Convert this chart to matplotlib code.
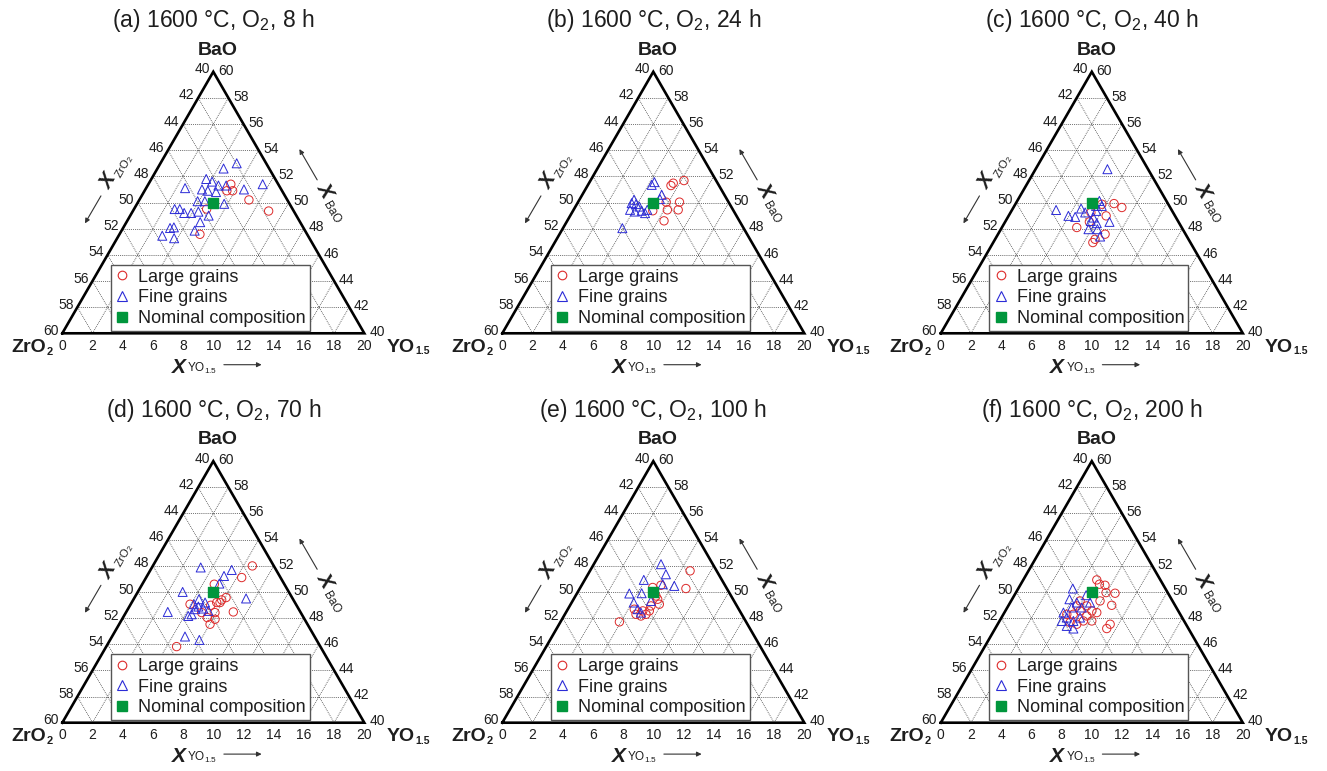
import numpy as np
import matplotlib.pyplot as plt
from matplotlib.lines import Line2D

plt.rcParams['font.family'] = ['Liberation Sans', 'DejaVu Sans']
plt.rcParams['mathtext.fontset'] = 'custom'
plt.rcParams['mathtext.rm'] = 'Liberation Sans'
plt.rcParams['mathtext.it'] = 'Liberation Sans:italic'
plt.rcParams['mathtext.bf'] = 'Liberation Sans:bold'

# compositions: (X_YO1.5, X_BaO) in mol%, ZrO2 is the rest
a_fine_y = [5.05, 4.38, 7.57, 6.53, 3.63, 4.12, 4.69, 5.2, 2.58, 3.75, 4.19, 4.78, 3.91, 4.39,
            5.77, 2.69, 3.03, 3.47, 3.93, 4.36, 5.19, 4.88, 3.11, 3.34, 4.84, 2.89, 3.77]
a_fine_bao = [53.0, 52.6, 51.4, 51.0, 51.8, 51.6, 51.3, 51.3, 51.1, 51.0, 50.9, 50.8, 50.1, 50.1,
              49.9, 49.5, 49.5, 49.2, 49.2, 49.3, 49.0, 48.5, 48.05, 48.1, 47.85, 47.46, 47.27]
a_large_y = [5.46, 5.45, 5.83, 7.26, 8.99, 4.81, 5.33]
a_large_bao = [51.4, 50.9, 50.9, 50.2, 49.35, 49.5, 47.57]

b_fine_y = [4.29, 4.22, 5.26, 5.31, 3.62, 3.59, 3.92, 3.74, 4.13, 4.55, 4.88, 4.86, 4.23, 3.93]
b_fine_bao = [51.56, 51.35, 50.59, 50.26, 50.21, 49.95, 49.88, 49.44, 49.31, 49.37, 49.44, 49.19,
              49.69, 48.04]
b_large_y = [5.58, 6.19, 5.52, 5.84, 6.72, 6.21, 6.93, 6.41, 5.28]
b_large_bao = [51.48, 51.68, 51.30, 50.03, 50.03, 49.44, 49.44, 48.60, 49.37]

c_fine_y = [4.76, 2.92, 3.96, 4.45, 4.52, 4.94, 5.44, 5.61, 5.68, 5.64, 6.12, 6.91, 5.80, 6.39,
            6.85, 5.41, 5.79]
c_fine_bao = [52.55, 49.43, 48.98, 48.90, 49.54, 49.24, 50.12, 49.36, 48.85, 48.59, 48.42, 48.52,
              47.96, 47.96, 47.40, 49.74, 49.74]
c_large_y = [5.73, 6.51, 7.18, 6.46, 5.58, 4.96, 7.09, 6.60, 6.62, 5.32]
c_large_bao = [49.87, 49.92, 49.62, 48.98, 48.52, 48.09, 47.58, 46.94, 47.19, 49.24]

d_fine_y = [3.23, 5.38, 5.10, 5.08, 2.97, 7.42, 2.75, 4.33, 4.86, 4.57, 4.45, 4.26, 4.42, 4.97,
            4.83, 5.91, 5.40, 4.19]
d_fine_bao = [51.87, 51.68, 51.22, 50.64, 50.0, 49.50, 48.47, 49.44, 49.19, 48.88, 48.68, 48.16,
              48.29, 48.73, 46.59, 46.33, 48.55, 49.06]
d_large_y = [6.59, 6.33, 4.77, 6.06, 5.86, 5.63, 5.34, 7.09, 3.93, 5.90, 5.58, 6.16, 6.02, 4.66,
             5.85, 5.02]
d_large_bao = [51.99, 51.10, 50.59, 49.57, 49.39, 49.19, 48.98, 48.47, 49.06, 48.42, 48.04, 47.91,
               47.53, 45.82, 49.19, 48.42]

e_fine_y = [4.45, 5.16, 6.16, 3.91, 3.47, 4.28, 4.11, 4.63, 5.33, 5.19, 4.97]
e_fine_bao = [52.12, 51.35, 50.46, 50.92, 49.88, 49.90, 49.19, 48.68, 50.59, 49.31, 48.42]
e_large_y = [6.63, 7.03, 4.79, 5.25, 5.57, 5.87, 5.38, 5.46, 5.03, 4.40, 5.10, 5.37, 3.90, 4.71,
             5.33]
e_large_bao = [51.61, 50.26, 50.34, 50.51, 49.44, 49.06, 48.93, 48.55, 48.55, 48.68, 48.16, 48.29,
               47.71, 48.29, 49.69]

f_fine_y = [3.61, 3.80, 4.75, 3.91, 4.12, 4.64, 5.18, 5.29, 4.41, 4.27, 4.93, 4.32, 4.89, 5.20]
f_fine_bao = [50.26, 49.44, 49.75, 48.42, 47.78, 47.40, 47.20, 49.19, 49.19, 48.81, 48.81, 48.04,
              47.78, 48.04]
f_large_y = [4.87, 5.21, 5.62, 5.97, 6.59, 6.83, 5.89, 7.45, 7.39, 4.57, 5.20, 5.73, 4.95, 4.63,
             5.55, 6.11, 5.24, 4.73, 6.12, 4.20, 5.59, 4.54]
f_large_bao = [50.92, 50.59, 50.51, 49.95, 49.90, 48.98, 49.31, 47.53, 47.20, 49.31, 48.93, 48.55,
               48.55, 48.29, 47.78, 47.78, 47.53, 47.66, 48.42, 48.29, 48.16, 48.93]

nominal_y = 5.0
nominal_bao = 50.0

titles = ['(a) 1600 °C, O$_2$, 8 h', '(b) 1600 °C, O$_2$, 24 h', '(c) 1600 °C, O$_2$, 40 h',
          '(d) 1600 °C, O$_2$, 70 h', '(e) 1600 °C, O$_2$, 100 h', '(f) 1600 °C, O$_2$, 200 h']
legend_labels = ['Large grains', 'Fine grains', 'Nominal composition']
zro2_ticks = list(range(40, 61, 2))
bao_ticks = list(range(40, 61, 2))
y_ticks = list(range(0, 21, 2))

panels = [
    (a_large_y, a_large_bao, a_fine_y, a_fine_bao),
    (b_large_y, b_large_bao, b_fine_y, b_fine_bao),
    (c_large_y, c_large_bao, c_fine_y, c_fine_bao),
    (d_large_y, d_large_bao, d_fine_y, d_fine_bao),
    (e_large_y, e_large_bao, e_fine_y, e_fine_bao),
    (f_large_y, f_large_bao, f_fine_y, f_fine_bao),
]

RED = '#dd2a2a'
BLUE = '#2b2bd6'
GREEN = '#00963c'
TXT = '#1e1e1e'

H = np.sqrt(3) / 2
S = 302.0                      # triangle side, px
FIG_W, FIG_H = 1327, 771
col_x = [62.3, 502.3, 940.8]   # bottom-left corner of each triangle, px
row_y = [333.3, 722.7]
X0, X1, Y0, Y1 = -0.2, 1.25, -0.15, 1.1


def to_xy(y, bao):
    """(X_YO1.5, X_BaO) -> cartesian inside the 40-60 / 0-20 sub-triangle"""
    f = (np.asarray(bao, dtype=float) - 40) / 20
    return np.asarray(y, dtype=float) / 20 + f / 2, f * H


fig = plt.figure(figsize=(FIG_W / 100, FIG_H / 100), dpi=100)

grid_kw = dict(color='#444444', lw=0.6, ls=(0, (1, 1.3)), zorder=1, clip_on=False)
arrow_kw = dict(arrowstyle='-|>', lw=0.8, color='#333333', mutation_scale=7,
                shrinkA=0, shrinkB=0)

for i, (ly, lb, fy, fb) in enumerate(panels):
    ox = col_x[i % 3]
    oy = row_y[i // 3]
    left = ox + X0 * S
    top = oy - Y1 * S
    w = (X1 - X0) * S
    h = (Y1 - Y0) * S
    ax = fig.add_axes([left / FIG_W, 1 - (top + h) / FIG_H, w / FIG_W, h / FIG_H])
    ax.set_xlim(X0, X1)
    ax.set_ylim(Y0, Y1)
    ax.set_axis_off()

    # dotted grid, every 2 mol%
    for k in range(1, 10):
        a = k / 10
        ax.plot([a / 2, 1 - a / 2], [a * H, a * H], **grid_kw)
        ax.plot([a, a + (1 - a) / 2], [0, (1 - a) * H], **grid_kw)
        ax.plot([a, a / 2], [0, a * H], **grid_kw)

    ax.plot([0, 1, 0.5, 0], [0, 0, H, 0], color='black', lw=1.9,
            solid_joinstyle='miter', zorder=2, clip_on=False)

    # tick labels
    for z in zro2_ticks:
        f = (60 - z) / 20
        ax.text(f / 2 - 0.012, f * H + 0.008, str(z), ha='right', va='center',
                fontsize=10, color=TXT)
    for b in bao_ticks:
        f = (b - 40) / 20
        ax.text(1 - f / 2 + 0.016, f * H + 0.004, str(b), ha='left', va='center',
                fontsize=10, color=TXT)
    for y in y_ticks:
        ax.text(y / 20, -0.042, str(y), ha='center', va='center', fontsize=10, color=TXT)

    # corner labels
    ax.text(0.516, 0.938, 'BaO', ha='center', va='center', fontsize=14,
            fontweight='bold', color=TXT)
    ax.text(-0.054, -0.046, 'ZrO', ha='right', va='center', fontsize=14,
            fontweight='bold', color=TXT)
    ax.text(-0.052, -0.062, '2', ha='left', va='center', fontsize=8,
            fontweight='bold', color=TXT)
    ax.text(1.074, -0.046, 'YO', ha='left', va='center', fontsize=14,
            fontweight='bold', color=TXT)
    ax.text(1.168, -0.060, '1.5', ha='left', va='center', fontsize=7.5,
            fontweight='bold', color=TXT)

    # axis names with arrows
    ax.text(0.152, 0.502, 'X', rotation=60, ha='center', va='center', fontsize=15,
            fontweight='bold', fontstyle='italic', color=TXT, rotation_mode='anchor')
    ax.text(0.207, 0.552, r'ZrO$_2$', rotation=60, ha='center', va='center', fontsize=8,
            color=TXT, rotation_mode='anchor')
    ax.annotate('', xy=(0.075, 0.364), xytext=(0.128, 0.455), arrowprops=arrow_kw)

    ax.text(0.870, 0.472, 'X', rotation=-60, ha='center', va='center', fontsize=15,
            fontweight='bold', fontstyle='italic', color=TXT, rotation_mode='anchor')
    ax.text(0.892, 0.398, 'BaO', rotation=-60, ha='center', va='center', fontsize=8.5,
            color=TXT, rotation_mode='anchor')
    ax.annotate('', xy=(0.785, 0.610), xytext=(0.844, 0.508), arrowprops=arrow_kw)

    ax.text(0.386, -0.112, 'X', ha='center', va='center', fontsize=15,
            fontweight='bold', fontstyle='italic', color=TXT)
    ax.text(0.414, -0.115, r'YO$_{1.5}$', ha='left', va='center', fontsize=8.5, color=TXT)
    ax.annotate('', xy=(0.66, -0.104), xytext=(0.535, -0.104), arrowprops=arrow_kw)

    ax.text(0.5, 1.035, titles[i], ha='center', va='center', fontsize=16.5, color=TXT)

    # data
    lx, lyy = to_xy(ly, lb)
    ax.scatter(lx, lyy, s=36, facecolors='none', edgecolors=RED, linewidths=0.7,
               zorder=3, clip_on=False)
    fx, fyy = to_xy(fy, fb)
    ax.scatter(fx, fyy, s=42, marker='^', facecolors='none', edgecolors=BLUE,
               linewidths=0.7, zorder=3, clip_on=False)
    nx, ny = to_xy([nominal_y], [nominal_bao])
    ax.scatter(nx, ny, s=44, marker='s', color=GREEN, zorder=4, clip_on=False)

    handles = [
        Line2D([], [], ls='none', marker='o', ms=6.2, mfc='none', mec=RED, mew=0.8),
        Line2D([], [], ls='none', marker='^', ms=7, mfc='none', mec=BLUE, mew=0.8),
        Line2D([], [], ls='none', marker='s', ms=6.5, mfc=GREEN, mec=GREEN),
    ]
    leg = ax.legend(handles, legend_labels, loc='lower left', bbox_to_anchor=(0.161, 0.008),
                    bbox_transform=ax.transData, fontsize=13, frameon=True, fancybox=False,
                    edgecolor='#555555', framealpha=1, borderpad=0.22, handlelength=0.8,
                    handletextpad=0.5, labelspacing=0.2, borderaxespad=0)
    leg.get_frame().set_linewidth(1.0)
    for t in leg.get_texts():
        t.set_color(TXT)

fig.savefig('out.png', dpi=100, facecolor='white')
